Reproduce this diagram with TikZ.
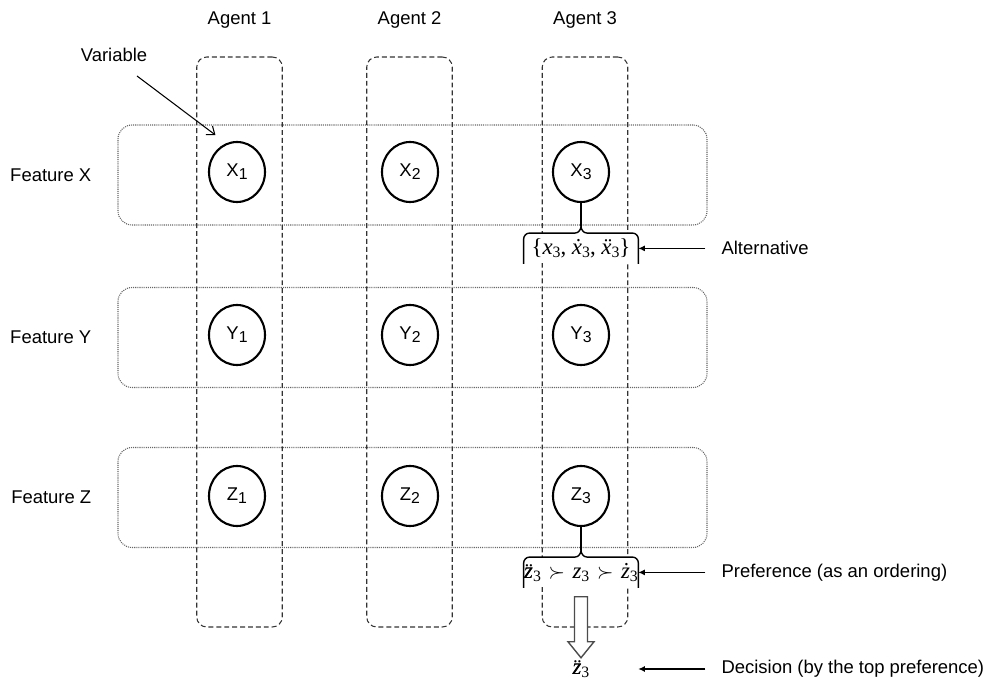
\documentclass[tikz,border=0pt]{standalone}
\usepackage{amsmath}
\usepackage{fontspec}
\setmainfont{Liberation Sans}
\newfontfamily\tnr{Liberation Serif}
\newcommand{\low}[1]{\raisebox{-0.25ex}{\fontsize{9pt}{10pt}\selectfont #1}}
\usetikzlibrary{positioning, arrows.meta, shapes.geometric, calc}

\begin{document}
\begin{tikzpicture}[
    font=\fontsize{10.5pt}{12.6pt}\selectfont,
    agent/.style={rectangle, draw=black!80, line width=0.6pt, dash pattern=on 2.8pt off 1.7pt,
                  rounded corners=0.2cm, minimum width=1.71cm, minimum height=11.4cm},
    feature/.style={rectangle, draw=black!60, line width=0.6pt, dash pattern=on 0.6pt off 0.6pt,
                    rounded corners=0.28cm, minimum width=11.78cm, minimum height=2cm},
    varnode/.style={ellipse, draw=black, line width=1.2pt, minimum width=1.12cm,
                    minimum height=1.2cm, inner sep=0pt},
    bracebox/.style={rectangle, fill=white, minimum width=2.28cm, minimum height=0.6cm,
                     inner sep=0pt, font=\tnr\fontsize{13pt}{15pt}\selectfont},
    bracket/.style={line width=0.8pt},
    arrow/.style={-{Latex[length=1.3mm, width=1.2mm]}, line width=0.6pt},
    pointer/.style={-{Straight Barb[length=1.4mm, width=2.2mm]}, line width=0.6pt},
    hollow/.style={draw=black!70, fill=white, line width=0.8pt}
]
    \useasboundingbox (0, 0) rectangle (19.94, 13.68);

    % Features
    \node[feature] (fx) at (8.25, 10.18) {};
    \node[feature] (fy) at (8.25, 6.93) {};
    \node[feature] (fz) at (8.25, 3.73) {};
    \node[left=0.4cm of fx] (fxlab) {Feature X};
    \node[left=0.4cm of fy] (fylab) {Feature Y};
    \node[left=0.4cm of fz] (fzlab) {Feature Z};

    % Agents
    \node[agent] (a1) at (4.79, 6.84) {};
    \node[agent] (a2) at (8.19, 6.84) {};
    \node[agent] (a3) at (11.70, 6.84) {};
    \node[above=0.44cm of a1] (a1lab) {Agent 1};
    \node[above=0.44cm of a2] (a2lab) {Agent 2};
    \node[above=0.44cm of a3] (a3lab) {Agent 3};

    % Variables
    \node[varnode] (X1) at (4.74, 10.24) {X\raisebox{-0.3ex}{\small 1}};
    \node[varnode] (X2) at (8.20, 10.24) {X\raisebox{-0.3ex}{\small 2}};
    \node[varnode] (X3) at (11.62, 10.24) {X\raisebox{-0.3ex}{\small 3}};
    \node[varnode] (Y1) at (4.74, 6.98) {Y\raisebox{-0.3ex}{\small 1}};
    \node[varnode] (Y2) at (8.20, 6.98) {Y\raisebox{-0.3ex}{\small 2}};
    \node[varnode] (Y3) at (11.62, 6.98) {Y\raisebox{-0.3ex}{\small 3}};
    \node[varnode] (Z1) at (4.74, 3.76) {Z\raisebox{-0.3ex}{\small 1}};
    \node[varnode] (Z2) at (8.20, 3.76) {Z\raisebox{-0.3ex}{\small 2}};
    \node[varnode] (Z3) at (11.62, 3.76) {Z\raisebox{-0.3ex}{\small 3}};

    % Variable pointer
    \node (var) at (2.28, 12.58) {Variable};
    \draw[pointer] ([xshift=0.46cm, yshift=-0.16cm]var.south) -- ([xshift=-0.02cm, yshift=0.3cm]X1.north west);

    % Alternatives of X3
    \node[bracebox, below=0.6cm of X3] (alt) {\{\textit{x}\low{3}, \textit{ẋ}\low{3}, \textit{ẍ}\low{3}\}};
    \draw[bracket] (alt.south west) -- ([yshift=-0.12cm]alt.north west)
        to[out=90, in=180] ([xshift=0.12cm]alt.north west) -- ([xshift=-0.12cm]alt.north)
        to[out=0, in=-90] ([yshift=0.14cm]alt.north)
        to[out=-90, in=180] ([xshift=0.12cm]alt.north) -- ([xshift=-0.12cm]alt.north east)
        to[out=0, in=90] ([yshift=-0.12cm]alt.north east) -- (alt.south east);
    \draw[bracket] ([yshift=0.14cm]alt.north) -- (X3);

    % Preference of Z3
    \node[bracebox, below=0.6cm of Z3] (pref) {\textit{\rlap{z̈}z}\low{3}\,\,$\succ$\,\,\textit{z}\low{3}\,\,$\succ$\,\,\textit{ż}\low{3}};
    \draw[bracket] (pref.south west) -- ([yshift=-0.12cm]pref.north west)
        to[out=90, in=180] ([xshift=0.12cm]pref.north west) -- ([xshift=-0.12cm]pref.north)
        to[out=0, in=-90] ([yshift=0.14cm]pref.north)
        to[out=-90, in=180] ([xshift=0.12cm]pref.north) -- ([xshift=-0.12cm]pref.north east)
        to[out=0, in=90] ([yshift=-0.12cm]pref.north east) -- (pref.south east);
    \draw[bracket] ([yshift=0.14cm]pref.north) -- (Z3);

    % Decision
    \draw[hollow] ([shift={(-0.13, -0.18)}]pref.south) -- ++(0.26, 0) -- ++(0, -0.9) -- ++(0.13, 0)
        -- ++(-0.26, -0.32) -- ++(-0.26, 0.32) -- ++(0.13, 0) -- cycle;
    \node[font=\tnr\fontsize{13pt}{15pt}\selectfont] (dec) at (11.62, 0.3) {\textit{\rlap{z̈}z}\low{3}};

    % Labels on the right
    \node[right=1.54cm of alt] (altlab) {Alternative};
    \node[right=1.54cm of pref] (preflab) {Preference (as an ordering)};
    \node[anchor=west] (declab) at (preflab.west |- dec) {Decision (by the top preference)};
    \draw[arrow, shorten <=0.2cm] (altlab.west) -- (alt.east);
    \draw[arrow, shorten <=0.2cm] (preflab.west) -- (pref.east);
    \draw[arrow, shorten <=0.2cm] (declab.west) -- (pref.east |- declab.west);

\end{tikzpicture}
\end{document}
